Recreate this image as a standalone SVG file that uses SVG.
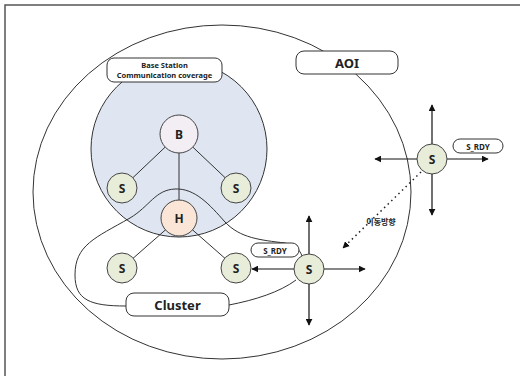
<svg xmlns="http://www.w3.org/2000/svg" width="520" height="376" viewBox="0 0 520 376">
<defs>
<marker id="ah" viewBox="0 0 10 10" refX="9" refY="5" markerWidth="7" markerHeight="7" orient="auto" markerUnits="userSpaceOnUse">
<path d="M0,0 L10,5 L0,10 z" fill="#111"/>
</marker>
<style>
.ln{stroke:#333;stroke-width:1;fill:none}
.ar{stroke:#111;stroke-width:1.2;fill:none;marker-end:url(#ah)}
.s{fill:#e8edda;stroke:#444;stroke-width:1}
.lbl{fill:#fff;stroke:#333;stroke-width:1}
.t{font-family:"Noto Sans","Liberation Sans",sans-serif;font-weight:bold;fill:#222;text-anchor:middle;dominant-baseline:central}
</style>
</defs>
<rect x="5" y="5" width="530" height="390" fill="#fff" stroke="#555" stroke-width="1.5"/>
<g id="aoi">
<ellipse cx="222" cy="192" rx="189" ry="167" class="ln"/>
</g>
<g id="coverage">
<circle cx="179" cy="149" r="88" fill="#dfe6f2" stroke="#333" stroke-width="1"/>
</g>
<g id="connectors">
<line x1="179" y1="134" x2="122" y2="188" class="ln"/>
<line x1="179" y1="134" x2="236" y2="188" class="ln"/>
<line x1="179" y1="134" x2="179" y2="218" class="ln"/>
<line x1="179" y1="218" x2="122" y2="268" class="ln"/>
<line x1="179" y1="218" x2="236" y2="268" class="ln"/>
<path d="M126,306 C 90,306 75,300 75,275 C 75,245 95,238 130,218 C 150,206 155,190 175,189 C 195,188 210,205 225,222 C 240,238 260,240 285,243 C 295,245 300,250 302,256" class="ln"/>
<path d="M296,280 C 280,292 255,300 229,305" class="ln"/>
<line x1="309" y1="254" x2="309" y2="216" class="ar"/>
<line x1="309" y1="284" x2="309" y2="325" class="ar"/>
<line x1="324" y1="269" x2="365" y2="269" class="ar"/>
<line x1="294" y1="269" x2="252" y2="269" class="ar"/>
<line x1="432" y1="144" x2="432" y2="105" class="ar"/>
<line x1="432" y1="174" x2="432" y2="215" class="ar"/>
<line x1="417" y1="159" x2="375" y2="159" class="ar"/>
<line x1="447" y1="159" x2="488" y2="159" class="ar"/>
<line x1="421" y1="172" x2="343" y2="248" stroke="#222" stroke-width="1.5" stroke-dasharray="1.5,3.5" fill="none" marker-end="url(#ah)"/>
</g>
<g id="aoi-label">
<rect x="296" y="51" width="102" height="23" rx="8" class="lbl"/>
<text x="347" y="62.5" class="t" font-size="13">AOI</text>
</g>
<g id="coverage-label">
<rect x="107" y="58" width="115" height="24" rx="7" class="lbl"/>
<text x="164.5" y="64.5" class="t" font-size="7.5">Base Station</text>
<text x="164.5" y="75" class="t" font-size="7.5">Communication coverage</text>
</g>
<g id="node-b">
<circle cx="179" cy="134" r="19" fill="#f2eef4" stroke="#444" stroke-width="1"/>
<text x="179" y="134" class="t" font-size="12">B</text>
</g>
<g id="node-s1">
<circle cx="122" cy="188" r="15" class="s"/>
<text x="122" y="188" class="t" font-size="12">S</text>
</g>
<g id="node-s2">
<circle cx="236" cy="188" r="15" class="s"/>
<text x="236" y="188" class="t" font-size="12">S</text>
</g>
<g id="node-h">
<circle cx="179" cy="218" r="18" fill="#fbe5d6" stroke="#444" stroke-width="1"/>
<text x="179" y="218" class="t" font-size="12">H</text>
</g>
<g id="node-s3">
<circle cx="122" cy="268" r="15" class="s"/>
<text x="122" y="268" class="t" font-size="12">S</text>
</g>
<g id="node-s4">
<circle cx="236" cy="268" r="15" class="s"/>
<text x="236" y="268" class="t" font-size="12">S</text>
</g>
<g id="node-s-moving">
<circle cx="309" cy="269" r="15" class="s"/>
<text x="309" y="269" class="t" font-size="12">S</text>
</g>
<g id="node-s-right">
<circle cx="432" cy="159" r="15" class="s"/>
<text x="432" y="159" class="t" font-size="12">S</text>
</g>
<g id="srdy-right">
<rect x="453" y="139" width="50" height="14" rx="7" class="lbl"/>
<text x="478" y="146" class="t" font-size="8">S_RDY</text>
</g>
<g id="srdy-lower">
<rect x="251" y="243" width="48" height="14" rx="7" class="lbl"/>
<text x="275" y="250" class="t" font-size="8">S_RDY</text>
</g>
<g id="cluster-label">
<rect x="126" y="293" width="103" height="23" rx="8" class="lbl"/>
<text x="177.5" y="304.5" class="t" font-size="13">Cluster</text>
</g>
<g id="move-label">
<text x="381" y="221" class="t" font-size="8" style="font-family:'Noto Sans CJK KR','Noto Sans',sans-serif">이동방향</text>
</g>
</svg>
